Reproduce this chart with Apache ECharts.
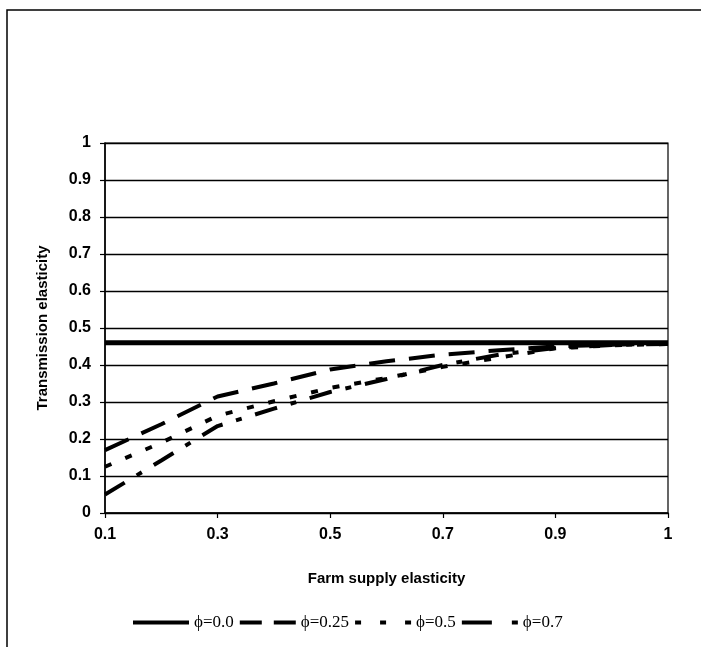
<!DOCTYPE html>
<html>
<head>
<meta charset="utf-8">
<script src="https://cdn.jsdelivr.net/npm/echarts@6/dist/echarts.min.js"></script>
<style>
html,body{margin:0;padding:0;background:#fff;}
#c{width:701px;height:647px;}
</style>
</head>
<body>
<div id="c"></div>
<script>
// Farm supply elasticity categories (label shown every other one)
var categories = ['0.1','0.2','0.3','0.4','0.5','0.6','0.7','0.8','0.9','0.95','1'];
var yTicks = [0, 0.1, 0.2, 0.3, 0.4, 0.5, 0.6, 0.7, 0.8, 0.9, 1];

var seriesNames = ['\u03d5=0.0', '\u03d5=0.25', '\u03d5=0.5', '\u03d5=0.7'];
var phi00  = [0.46, 0.46, 0.46, 0.46, 0.46, 0.46, 0.46, 0.46, 0.46, 0.46, 0.46];
var phi025 = [0.17, 0.24, 0.315, 0.35, 0.388, 0.41, 0.428, 0.44, 0.45, 0.455, 0.458];
var phi05  = [0.125, 0.19, 0.263, 0.302, 0.338, 0.365, 0.395, 0.42, 0.445, 0.453, 0.457];
var phi07  = [0.05, 0.142, 0.235, 0.282, 0.327, 0.362, 0.40, 0.428, 0.446, 0.454, 0.457];

var chart = echarts.init(document.getElementById('c'), null, {renderer: 'canvas'});

function lineSeries(name, data, width, type) {
  return {
    name: name,
    type: 'line',
    data: data,
    symbol: 'none',
    smooth: false,
    lineStyle: {color: '#000', width: width, type: type, cap: 'butt'},
    itemStyle: {color: '#000'},
    z: 3
  };
}

var legendIcons = [
  'path://M0,0H56V4H0Z',
  'path://M0,0H22V4H0Z M34,0H56V4H34Z',
  'path://M0,0H6V4H0Z M25,0H31V4H25Z M50,0H56V4H50Z',
  'path://M0,0H30V4H0Z M50,0H56V4H50Z'
];

var labelFont = {fontFamily: 'Liberation Sans', fontWeight: 'bold', fontSize: 16, color: '#000'};

var option = {
  backgroundColor: '#fff',
  animation: false,
  graphic: [{
    type: 'rect',
    shape: {x: 7, y: 10, width: 720, height: 660},
    style: {fill: 'none', stroke: '#000', lineWidth: 1.5},
    silent: true,
    z: -1
  }],
  grid: {
    left: 105, right: 33, top: 143, bottom: 134,
    show: true, borderColor: '#000', borderWidth: 1.2, backgroundColor: 'transparent'
  },
  legend: {
    left: 133, top: 614,
    itemWidth: 56, itemHeight: 4, itemGap: 6,
    symbolKeepAspect: false,
    padding: 0,
    textStyle: {fontFamily: 'Liberation Serif', fontSize: 17, color: '#000'},
    data: seriesNames.map(function (n, i) {
      return {name: n, icon: legendIcons[i], itemStyle: {color: '#000'}};
    })
  },
  xAxis: {
    type: 'category',
    data: categories,
    boundaryGap: false,
    name: 'Farm supply elasticity',
    nameLocation: 'middle',
    nameGap: 58,
    nameTextStyle: {fontFamily: 'Liberation Sans', fontWeight: 'bold', fontSize: 15, color: '#000'},
    axisLine: {lineStyle: {color: '#000', width: 1.5}},
    axisTick: {show: true, interval: 1, length: 5, lineStyle: {color: '#000', width: 1.2}},
    axisLabel: Object.assign({interval: 1, margin: 14}, labelFont),
    splitLine: {show: false}
  },
  yAxis: {
    type: 'value',
    min: 0, max: 1, interval: 0.1,
    name: 'Transmission elasticity',
    nameLocation: 'middle',
    nameGap: 55,
    nameRotate: 90,
    nameTextStyle: {fontFamily: 'Liberation Sans', fontWeight: 'bold', fontSize: 15, color: '#000'},
    axisLine: {show: true, lineStyle: {color: '#000', width: 1.5}},
    axisTick: {show: true, length: 5, lineStyle: {color: '#000', width: 1.2}},
    axisLabel: Object.assign({
      margin: 14,
      formatter: function (v) {
        for (var i = 0; i < yTicks.length; i++) {
          if (Math.abs(yTicks[i] - v) < 1e-9) return String(yTicks[i]);
        }
        return '';
      }
    }, labelFont),
    splitLine: {show: true, lineStyle: {color: '#000', width: 1.3}}
  },
  series: [
    lineSeries(seriesNames[0], phi00, 5, 'solid'),
    lineSeries(seriesNames[1], phi025, 4, [26, 14]),
    lineSeries(seriesNames[2], phi05, 4, [7, 15]),
    lineSeries(seriesNames[3], phi07, 4, [23, 14, 6, 14])
  ]
};
chart.setOption(option);
</script>
</body>
</html>
